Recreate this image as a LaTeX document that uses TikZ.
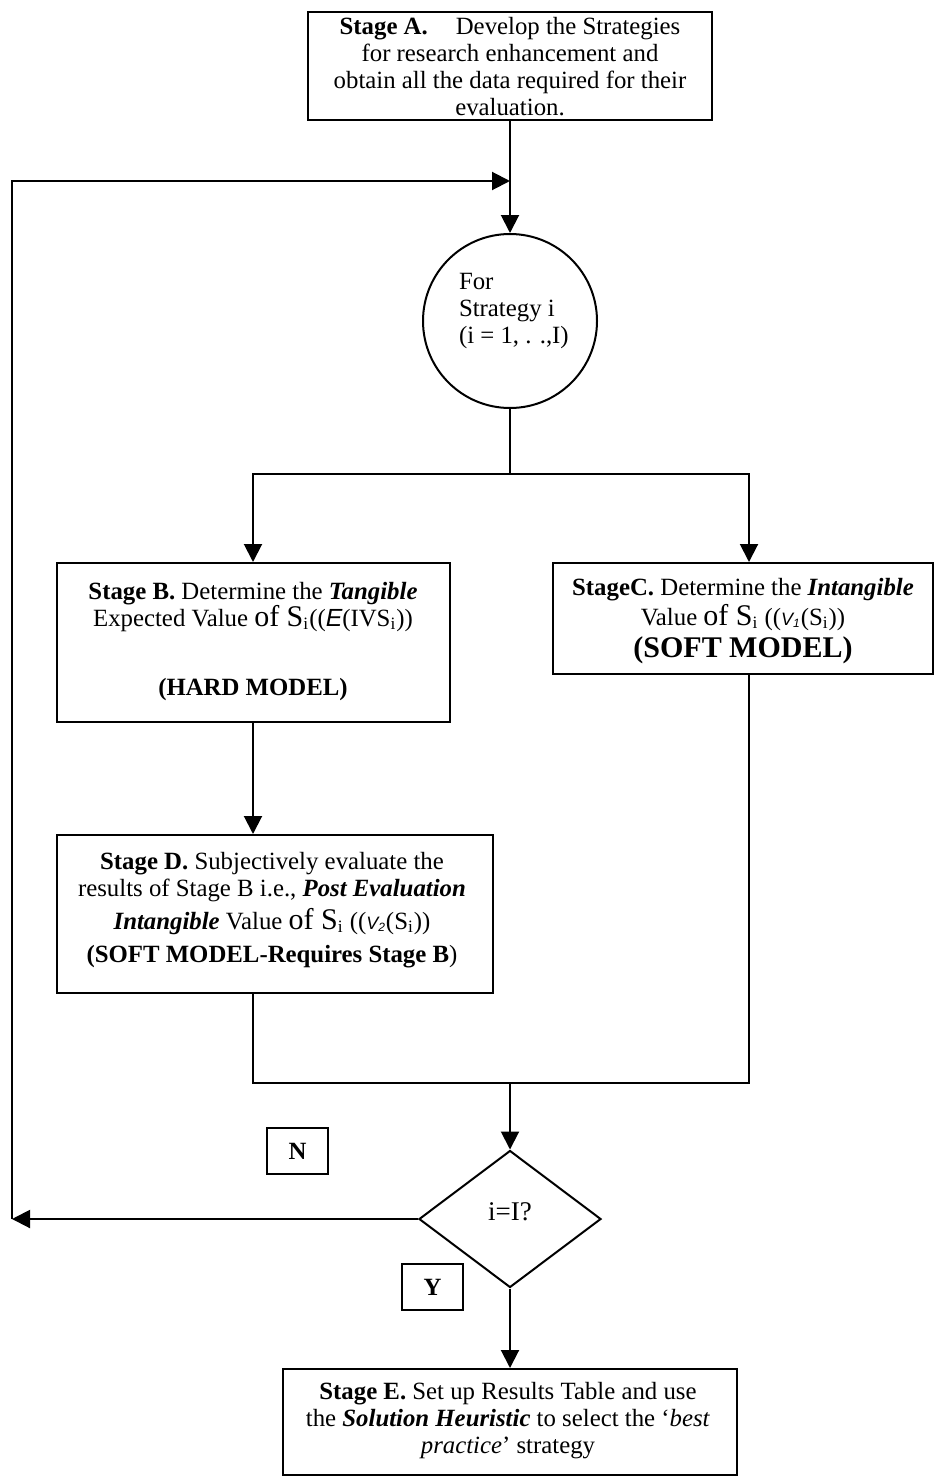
\documentclass[tikz,border=0pt]{standalone}
\usepackage{fontspec}
\setmainfont{Liberation Serif}
\newfontfamily\scrfam{Liberation Sans}
\usetikzlibrary{arrows.meta,shapes.geometric,fit,calc}
\newcommand{\ofSi}{{\fontsize{15}{13.5}\selectfont of S}\textsubscript{i}}
\newcommand{\scrE}{{\scrfam\itshape E}}
\newcommand{\Vsub}[1]{{\scrfam\itshape\fontsize{9}{9}\selectfont V\textsubscript{#1}}}
\begin{document}
\begin{tikzpicture}[x=0.5pt,y=-0.5pt, line width=1pt,
  box/.style={draw, inner sep=0pt},
  txt/.style={align=center, inner sep=0pt, font=\fontsize{12.4}{13.5}\selectfont},
  arr/.style={-{Triangle[length=9pt,width=9pt]}},
  yn/.style={draw, inner sep=0pt, minimum width=30.5pt, minimum height=23pt, font=\fontsize{12.4}{12}\selectfont\bfseries}]
\useasboundingbox (0,0) rectangle (935,1477);

% boxes
\node[box, fit={(308,12)(712,120)}] (A) {};
\node[txt, anchor=north] (At) at (510,16) {\textbf{Stage A.}\hspace{14pt}Develop the Strategies\\for research enhancement and\\obtain all the data required for their\\evaluation.};

\node[circle, draw, minimum size=87pt, inner sep=0pt] (S) at (510,321) {};
\node[txt, align=left, anchor=north west] (St) at (458,272) {For\\Strategy i\\(i = 1, . .,I)};

\node[box, fit={(57,563)(450,722)}] (B) {};
\node[txt, anchor=north] (Bt) at (253,581) {\textbf{Stage B.} Determine the \textbf{\textit{Tangible}}\\Expected Value \ofSi((\scrE(IVS\textsubscript{i}))\\[21pt]\textbf{(HARD MODEL)}};

\node[box, fit={(553,563)(933,674)}] (C) {};
\node[txt, anchor=north] (Ct) at (743,577) {\textbf{StageC.} Determine the \textbf{\textit{Intangible}}\\[1.5pt]Value \ofSi\ ((\Vsub{1}(S\textsubscript{i}))\\[2.5pt]{\fontsize{15}{15}\selectfont\textbf{(SOFT MODEL)}}};

\node[box, fit={(57,835)(493,993)}] (D) {};
\node[txt, anchor=north] (Dt) at (272,851) {\textbf{Stage D.} Subjectively evaluate the\\results of Stage B i.e., \textbf{\textit{Post Evaluation}}\\[3pt]\textbf{\textit{Intangible}} Value \ofSi\ ((\Vsub{2}(S\textsubscript{i}))\\[3pt]\textbf{(SOFT MODEL-Requires Stage B})};

\node[diamond, draw, inner sep=0pt, minimum width=91pt, minimum height=68.5pt, text depth=7pt, font=\fontsize{13.5}{13.5}\selectfont] (Q) at (510,1219) {i=I?};

\node[yn] (N) at (297.5,1151) {N};
\node[yn] (Y) at (432.5,1287) {Y};

\node[box, fit={(283,1369)(737,1475)}] (E) {};
\node[txt, anchor=north] (Et) at (508,1381) {\textbf{Stage E.} Set up Results Table and use\\the \textbf{\textit{Solution Heuristic}} to select the ‘\textit{best}\\\textit{practice}’ strategy};

% coordinates
\coordinate (fbJ) at (510,181);
\coordinate (split) at (510,474);
\coordinate (splitL) at (253,474);
\coordinate (splitR) at (749,474);
\coordinate (jL) at (253,1083);
\coordinate (jR) at (749,1083);
\coordinate (jM) at (510,1083);
\coordinate (fbL) at (12,1219);
\coordinate (fbT) at (12,181);

% connectors
\draw[arr] (A.south) -- (S.north);
\draw (S.south) -- (split);
\draw[arr] (split) -- (splitL) -- (splitL |- B.north);
\draw[arr] (split) -- (splitR) -- (splitR |- C.north);
\draw[arr] (splitL |- B.south) -- (splitL |- D.north);
\draw (jL |- D.south) -- (jL) -- (jR) -- (jR |- C.south);
\draw[arr] (jM) -- (Q.north);
\draw[arr] (Q.west) -- (fbL);
\draw[arr] (fbL) -- (fbT) -- (fbJ);
\draw[arr] (Q.south) -- (E.north);
\end{tikzpicture}
\end{document}
